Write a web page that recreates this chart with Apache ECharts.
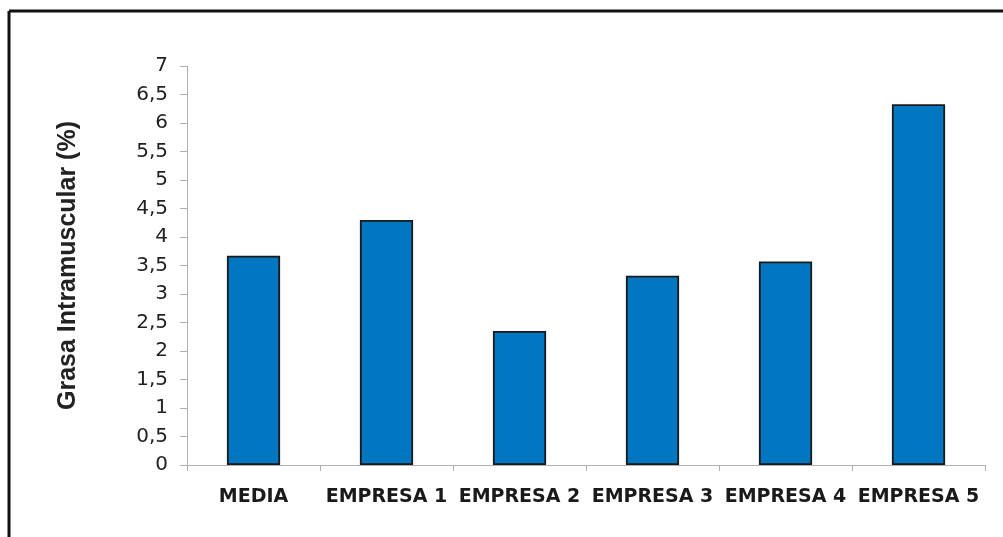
<!DOCTYPE html>
<html>
<head>
<meta charset="utf-8">
<script src="https://cdn.jsdelivr.net/npm/echarts@6/dist/echarts.min.js"></script>
<style>
html,body{margin:0;padding:0;background:#fff;}
#c{width:1003px;height:537px;}
</style>
</head>
<body>
<div id="c"></div>
<script>
const categories = ['MEDIA', 'EMPRESA 1', 'EMPRESA 2', 'EMPRESA 3', 'EMPRESA 4', 'EMPRESA 5'];
const values = [3.67, 4.30, 2.35, 3.32, 3.57, 6.33];
const yAxisTitle = 'Grasa Intramuscular (%)';

const chart = echarts.init(document.getElementById('c'), null, {renderer: 'canvas'});
chart.setOption({
  animation: false,
  backgroundColor: '#fff',
  graphic: [
    {type: 'line', shape: {x1: 9, y1: 11, x2: 1003, y2: 11}, style: {stroke: '#111', lineWidth: 3}},
    {type: 'line', shape: {x1: 9, y1: 11, x2: 9, y2: 537}, style: {stroke: '#111', lineWidth: 3}}
  ],
  grid: {left: 187, right: 18, top: 66, bottom: 72},
  xAxis: {
    type: 'category',
    data: categories,
    axisLine: {lineStyle: {color: '#b0b0b0', width: 1}},
    axisTick: {show: true, length: 6, lineStyle: {color: '#b0b0b0'}},
    axisLabel: {
      color: '#1a1a1a', fontFamily: 'DejaVu Sans', fontWeight: 'bold', fontSize: 19, margin: 23, interval: 0
    }
  },
  yAxis: {
    type: 'value',
    min: 0, max: 7, interval: 0.5,
    name: yAxisTitle,
    nameLocation: 'middle',
    nameGap: 106,
    nameRotate: 90,
    nameTextStyle: {color: '#222', fontFamily: 'Liberation Sans, Arial', fontWeight: 'bold', fontSize: 25},
    axisLine: {show: true, lineStyle: {color: '#b0b0b0', width: 1}},
    axisTick: {show: true, length: 7, lineStyle: {color: '#b0b0b0'}},
    splitLine: {show: false},
    axisLabel: {
      color: '#222', fontFamily: 'DejaVu Sans', fontSize: 20, margin: 19,
      formatter: v => String(v).replace('.', ',')
    }
  },
  series: [{
    type: 'bar',
    data: values,
    barWidth: '40%',
    itemStyle: {color: '#0077c0', borderColor: '#1a1a1a', borderWidth: 1.8}
  }]
});
</script>
</body>
</html>
